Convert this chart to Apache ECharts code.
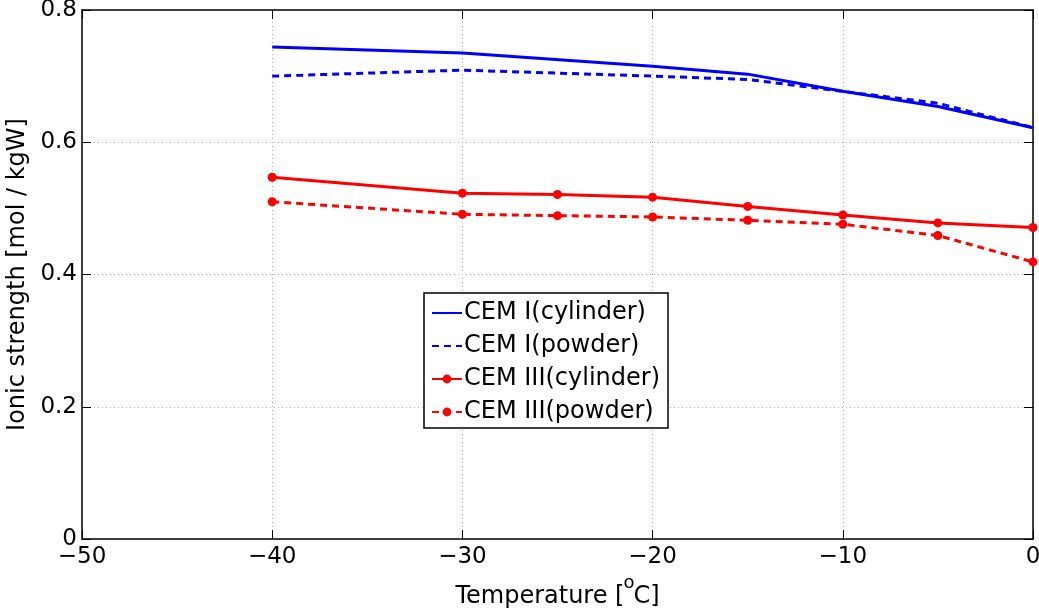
<!DOCTYPE html>
<html>
<head>
<meta charset="utf-8">
<script src="https://cdn.jsdelivr.net/npm/echarts@6/dist/echarts.min.js"></script>
<style>
  html, body { margin: 0; padding: 0; background: #fff; }
  #chart { width: 1039px; height: 612px; }
</style>
</head>
<body>
<div id="chart"></div>
<script>
// 数据
var tempBlue = [-40, -30, -20, -15, -10, -5, 0];
var cem1Cylinder = [0.744, 0.735, 0.715, 0.703, 0.677, 0.654, 0.622];
var cem1Powder = [0.700, 0.709, 0.700, 0.695, 0.677, 0.659, 0.622];

var tempRed = [-40, -30, -25, -20, -15, -10, -5, 0];
var cem3Cylinder = [0.547, 0.523, 0.521, 0.517, 0.503, 0.490, 0.478, 0.471];
var cem3Powder = [0.510, 0.491, 0.489, 0.487, 0.482, 0.476, 0.459, 0.419];

var seriesNames = ['CEM I(cylinder)', 'CEM I(powder)', 'CEM III(cylinder)', 'CEM III(powder)'];

function pairs(xs, ys) {
  return xs.map(function (x, i) { return [x, ys[i]]; });
}

var font = 'DejaVu Sans, Liberation Sans, Arial, sans-serif';
var gridLine = { show: true, lineStyle: { color: '#aaa', type: [1, 3], width: 1 } };
var tick = { show: true, inside: true, length: 9, lineStyle: { color: '#000' } };
var axisLine = { show: true, onZero: false, lineStyle: { color: '#000', width: 1.5 } };

var chart = echarts.init(document.getElementById('chart'));

var option = {
  animation: false,
  grid: { left: 82, right: 6, top: 10, bottom: 73, outerBoundsMode: 'none' },
  legend: {
    data: [
      // 蓝线图例不画圆点
      { name: seriesNames[0], itemStyle: { color: 'rgba(0,0,0,0)', borderWidth: 0 } },
      { name: seriesNames[1], itemStyle: { color: 'rgba(0,0,0,0)', borderWidth: 0 } },
      { name: seriesNames[2] },
      { name: seriesNames[3] }
    ],
    orient: 'vertical',
    left: 424,
    top: 293,
    padding: [8, 8, 4, 7],
    itemGap: 9,
    itemWidth: 30,
    itemHeight: 11,
    borderColor: '#000',
    borderWidth: 1.5,
    borderRadius: 0,
    backgroundColor: '#fff',
    textStyle: { fontFamily: font, fontSize: 24, color: '#000', padding: [0, 0, 0, -3] }
  },
  xAxis: [{
    type: 'value',
    min: -50, max: 0, interval: 10,
    name: '{b|Temperature [}{sup|o}{b|C]}',
    nameLocation: 'middle',
    nameGap: 20,
    nameTextStyle: {
      rich: {
        b: { fontFamily: font, fontSize: 24, color: '#000', verticalAlign: 'bottom' },
        sup: { fontFamily: font, fontSize: 18, color: '#000', verticalAlign: 'top', padding: [0, -1, 17, -1] }
      }
    },
    axisLine: axisLine,
    axisTick: tick,
    axisLabel: {
      fontFamily: font, fontSize: 23, color: '#000', margin: 7,
      formatter: function (v) { return String(v).replace('-', '\u2212'); }
    },
    splitLine: gridLine
  }, {
    type: 'value', position: 'top',
    min: -50, max: 0, interval: 10,
    axisLine: axisLine,
    axisTick: tick,
    axisLabel: { show: false },
    splitLine: { show: false }
  }],
  yAxis: [{
    type: 'value',
    min: 0, max: 0.8, interval: 0.2,
    name: 'Ionic strength [mol / kgW]',
    nameLocation: 'middle',
    nameGap: 47,
    nameTextStyle: { fontFamily: font, fontSize: 24, color: '#000' },
    axisLine: axisLine,
    axisTick: tick,
    axisLabel: {
      fontFamily: font, fontSize: 23, color: '#000', margin: 5,
      formatter: function (v) { return v === 0 ? '0' : v.toFixed(1); }
    },
    splitLine: gridLine
  }, {
    type: 'value', position: 'right',
    min: 0, max: 0.8, interval: 0.2,
    axisLine: axisLine,
    axisTick: tick,
    axisLabel: { show: false },
    splitLine: { show: false }
  }],
  series: [{
    name: seriesNames[0], type: 'line',
    data: pairs(tempBlue, cem1Cylinder),
    symbol: 'none',
    itemStyle: { color: '#0000ff' },
    lineStyle: { color: '#0000ff', width: 3 }
  }, {
    name: seriesNames[1], type: 'line',
    data: pairs(tempBlue, cem1Powder),
    symbol: 'none',
    itemStyle: { color: '#0000ff' },
    lineStyle: { color: '#0000ff', width: 3, type: [7, 5] }
  }, {
    name: seriesNames[2], type: 'line',
    data: pairs(tempRed, cem3Cylinder),
    symbol: 'circle', symbolSize: 9,
    itemStyle: { color: '#ff0000' },
    lineStyle: { color: '#ff0000', width: 3 }
  }, {
    name: seriesNames[3], type: 'line',
    data: pairs(tempRed, cem3Powder),
    symbol: 'circle', symbolSize: 9,
    itemStyle: { color: '#ff0000' },
    lineStyle: { color: '#ff0000', width: 3, type: [7, 5] }
  }]
};

chart.setOption(option);
</script>
</body>
</html>
